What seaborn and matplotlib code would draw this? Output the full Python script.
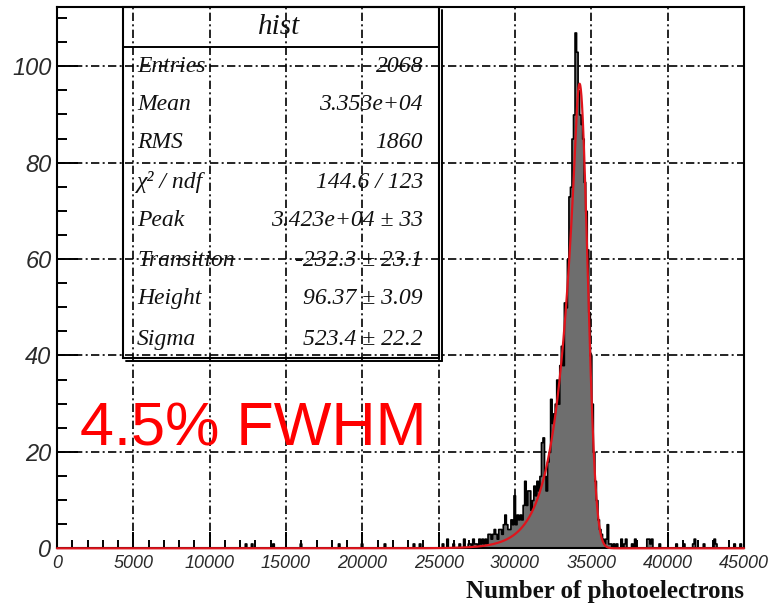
import numpy as np
import pandas as pd
import matplotlib
matplotlib.use("Agg")
import matplotlib.pyplot as plt
import seaborn as sns
from matplotlib.patches import Rectangle
from matplotlib.lines import Line2D
from matplotlib.ticker import MultipleLocator

BIN_WIDTH = 100
X_MAX = 45000

# counts per 100 p.e. bin, starting at 27000 p.e.
core_start = 27000
core_counts = [
    1, 0, 2, 1, 1, 0, 2, 1, 2, 1,          # 27000
    2, 1, 3, 3, 2, 3, 4, 3, 2, 4,          # 28000
    4, 3, 5, 7, 5, 4, 4, 6, 5, 11,         # 29000
    5, 7, 6, 7, 6, 9, 14, 9, 12, 12,       # 30000
    8, 10, 13, 11, 14, 12, 15, 22, 23, 15, # 31000
    12, 18, 20, 31, 26, 28, 30, 35, 30, 38,  # 32000
    42, 38, 51, 50, 60, 73, 75, 85, 90, 107, # 33000
    103, 95, 90, 88, 85, 76, 70, 62, 49, 40, # 34000
    30, 20, 14, 10, 6, 4, 3, 2, 1, 2,        # 35000
    5, 1, 1, 0, 1,                           # 36000
]

# isolated entries away from the peak: bin low edge and count
sparse_edges = [12300, 12700, 14100, 15900, 18400, 19900, 21400, 23300,
                23700, 25200, 25500, 25900, 26300, 26600, 26900,
                36600, 36900, 37100, 37200, 37600, 37800, 38600, 38700,
                38800, 38900, 39400, 40500, 41000, 41600, 41700, 42300,
                43000, 43100, 44300, 44700]
sparse_counts = [1, 1, 1, 1, 1, 1, 1, 1,
                 1, 1, 2, 1, 1, 2, 1,
                 1, 2, 1, 2, 1, 2, 2, 2,
                 1, 2, 1, 1, 1, 1, 2, 1,
                 2, 1, 1, 1]

# fit parameters (gaussian core with exponential low-side tail)
fit_peak = 34230.0
fit_transition = -232.3
fit_height = 96.37
fit_sigma = 523.4

stat_labels = ["Entries", "Mean", "RMS", "\u03c7\u00b2 / ndf", "Peak",
               "Transition", "Height", "Sigma"]
stat_values = ["2068", "3.353e+04", "1860", "144.6 / 123",
               "3.423e+04 \u00b1 33", "-232.3 \u00b1 23.1",
               "96.37 \u00b1 3.09", "523.4 \u00b1 22.2"]

annotation = "4.5% FWHM"

# ---- build the histogram table ----
edges = np.arange(0, X_MAX + BIN_WIDTH, BIN_WIDTH)
counts = np.zeros(len(edges) - 1)
i0 = core_start // BIN_WIDTH
counts[i0:i0 + len(core_counts)] = core_counts
for e, c in zip(sparse_edges, sparse_counts):
    counts[e // BIN_WIDTH] += c
hist_df = pd.DataFrame({"pe": edges[:-1] + BIN_WIDTH / 2, "n": counts})


def fit_curve(x):
    d = x - fit_peak
    s2 = fit_sigma ** 2
    gauss = np.exp(-0.5 * d ** 2 / s2)
    tail_expo = fit_transition * (fit_transition - 2 * d) / (2 * s2)
    tail = np.exp(np.minimum(tail_expo, 0.0))
    return fit_height * np.where(d >= fit_transition, gauss, tail)


xs = np.arange(0, X_MAX + 1, 10.0)
fit_df = pd.DataFrame({"pe": xs, "f": fit_curve(xs)})

# ---- figure ----
sns.set_theme(style="white")
plt.rcParams["font.family"] = ["Liberation Sans", "DejaVu Sans"]

W, H = 772, 606
fig = plt.figure(figsize=(W / 100, H / 100), dpi=100)


def fx(px):
    return px / W


def fy(py):
    return 1 - py / H


left, right, top, bottom = 57, 744, 6.7, 548.3
ax = fig.add_axes([fx(left), fy(bottom), (right - left) / W, (bottom - top) / H])
ax.set_facecolor("white")
ax.set_axisbelow(True)
ax.grid(True, which="major", color="black", linestyle=(0, (5, 2, 1.2, 2)),
        linewidth=1.2)

sns.histplot(data=hist_df, x="pe", weights="n", bins=[float(e) for e in edges],
             element="step", fill=True, color="#6e6e6e", edgecolor="black",
             linewidth=1.2, alpha=1, ax=ax)
sns.lineplot(data=fit_df, x="pe", y="f", color="#e0141c", linewidth=1.6,
             ax=ax, zorder=3, clip_on=False)

ax.set_xlim(0, X_MAX)
ax.set_ylim(0, 112.35)
ax.xaxis.set_major_locator(MultipleLocator(5000))
ax.xaxis.set_minor_locator(MultipleLocator(1000))
ax.yaxis.set_major_locator(MultipleLocator(20))
ax.yaxis.set_minor_locator(MultipleLocator(5))
ax.tick_params(which="both", direction="in", top=False, right=False,
               bottom=True, left=True, width=1.4, color="black")
ax.tick_params(axis="x", which="major", length=11.7, pad=5)
ax.tick_params(axis="x", which="minor", length=5.8)
ax.tick_params(axis="y", which="major", length=15, pad=4)
ax.tick_params(axis="y", which="minor", length=7.5)
for lab in ax.get_xticklabels():
    lab.set_fontfamily("Liberation Sans")
    lab.set_fontstyle("italic")
    lab.set_fontsize(13)
    lab.set_color("#2a2a2a")
for lab in ax.get_yticklabels():
    lab.set_fontfamily("Liberation Sans")
    lab.set_fontstyle("italic")
    lab.set_fontsize(17)
    lab.set_color("#2a2a2a")
for sp in ax.spines.values():
    sp.set_visible(True)
    sp.set_color("black")
    sp.set_linewidth(1.5)

ax.set_ylabel("")
ax.set_xlabel("Number of photoelectrons", fontfamily="Liberation Serif",
              fontweight="bold", fontsize=18, color="#111111")
ax.xaxis.set_label_coords(1.0, -0.058)
ax.xaxis.label.set_horizontalalignment("right")
ax.xaxis.label.set_verticalalignment("top")

# ---- statistics box ----
bx0, bx1, by0, by1 = 123, 439, 7, 358
fig.add_artist(Rectangle((fx(bx0), fy(by1)), (bx1 - bx0) / W, (by1 - by0) / H,
                         fill=False, edgecolor="black", linewidth=1.5,
                         transform=fig.transFigure))
fig.add_artist(Line2D([fx(bx1 + 2.5)] * 2, [fy(by0 + 3), fy(by1 + 3)],
                      color="black", linewidth=1.4, transform=fig.transFigure))
fig.add_artist(Line2D([fx(bx0 + 3), fx(bx1 + 2.5)], [fy(by1 + 3)] * 2,
                      color="black", linewidth=1.4, transform=fig.transFigure))
fig.add_artist(Line2D([fx(bx0), fx(bx1)], [fy(46.5)] * 2,
                      color="black", linewidth=1.4, transform=fig.transFigure))
fig.text(fx(279), fy(27), "hist", ha="center", va="center",
         family="Liberation Serif", style="italic", fontsize=21, color="#111111")

row_y = [66, 104, 143, 182, 221, 260, 299, 339]
for yy, lab, val in zip(row_y, stat_labels, stat_values):
    fig.text(fx(137), fy(yy), lab, ha="left", va="center",
             family="Liberation Serif", style="italic", fontsize=17,
             color="#111111")
    fig.text(fx(423), fy(yy), val, ha="right", va="center",
             family="Liberation Serif", style="italic", fontsize=17,
             color="#111111")

fig.text(fx(80), fy(445), annotation, ha="left", va="baseline",
         family="Liberation Sans", fontsize=44, color="#ff0000")

fig.savefig("out.png", dpi=100, facecolor="white")
